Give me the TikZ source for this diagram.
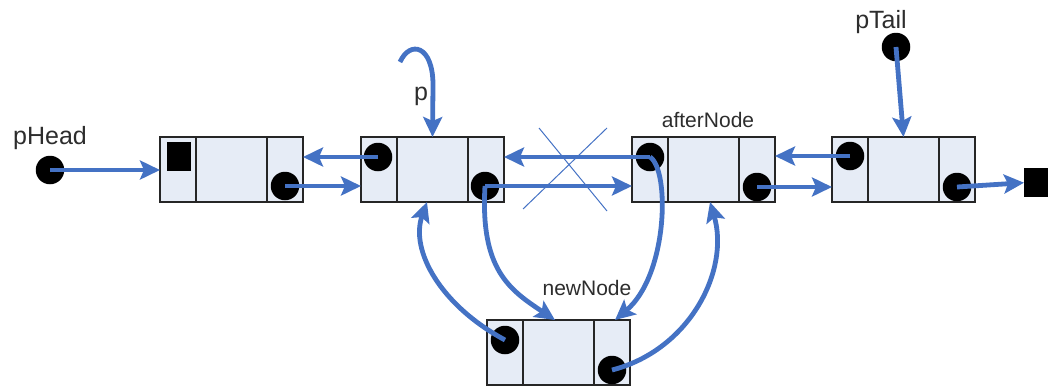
\documentclass[tikz,border=0pt]{standalone}
\usepackage{fontspec}
\setmainfont{Liberation Sans}
\usetikzlibrary{arrows.meta,calc}
\definecolor{lkblue}{RGB}{68,114,196}
\definecolor{boxfill}{RGB}{230,236,246}
\definecolor{txtgray}{RGB}{45,45,45}
\begin{document}
\begin{tikzpicture}[x=1pt,y=-1pt,
  fld/.style={draw=black!85, line width=1.6pt, fill=boxfill, minimum height=65pt, inner sep=0pt, outer sep=0pt, anchor=north west},
  dot/.style={circle, fill=black, minimum size=28.5pt, inner sep=0pt},
  nullbox/.style={fill=black, minimum width=24pt, minimum height=29pt, inner sep=0pt, anchor=north west},
  lnk/.style={draw=lkblue, line width=4.8pt, -{Stealth[length=20pt,width=19pt,inset=4pt]}},
  crossline/.style={draw=lkblue, line width=1pt},
  lbl/.style={font=\fontsize{25}{28}\selectfont, text=txtgray, anchor=base, inner sep=0pt},
  slbl/.style={font=\fontsize{21}{24}\selectfont, text=txtgray, anchor=base, inner sep=0pt}]
\useasboundingbox (0,0) rectangle (1049,389);
% list nodes
\foreach \n/\x/\y in {a/160/137, b/361/137, c/632/137, d/832/137, e/487/320} {
  \node[fld, minimum width=36pt] (\n l) at (\x,\y) {};
  \node[fld, minimum width=71pt] (\n m) at (\x+36,\y) {};
  \node[fld, minimum width=36pt] (\n r) at (\x+107,\y) {};
}
% null markers
\node[nullbox] (nul) at (167,142) {};
\node[nullbox] (term) at (1024,168) {};
% pointer dots
\node[dot] (hd) at (50,170) {};
\node[dot] (an) at (285,186) {};
\node[dot] (bp) at (378,157) {};
\node[dot] (bn) at (485,186) {};
\node[dot] (cp) at (650,157) {};
\node[dot] (cn) at (757,187) {};
\node[dot] (dp) at (850,156) {};
\node[dot] (dn) at (957,187) {};
\node[dot] (pt) at (896,47) {};
\node[dot] (ep) at (505,340) {};
\node[dot] (en) at (612,370) {};
% labels
\node[lbl] (lh) at (50,144) {pHead};
\node[lbl] (lt) at (881,28) {pTail};
\node[slbl] (la) at (708,127) {afterNode};
\node[slbl] (ln) at (587,295) {newNode};
\node[lbl] (lp) at (421,100) {p};
% cross
\coordinate (x1) at (539,128);
\coordinate (x2) at (607,211);
\coordinate (x3) at (607,128);
\coordinate (x4) at (523,209);
\draw[crossline] (x1) -- (x2);
\draw[crossline] (x3) -- (x4);
% straight links
\draw[lnk] (hd.center) -- (hd.center -| al.west);
\draw[lnk] (an.center) -- (an.center -| bl.west);
\draw[lnk] (bp.center) -- (bp.center -| ar.east);
\draw[lnk] (bn.center) -- (bn.center -| cl.west);
\draw[lnk] (cp.center) -- (cp.center -| br.east);
\draw[lnk] (cn.center) -- (cn.center -| dl.west);
\draw[lnk] (dp.center) -- (dp.center -| cr.east);
\draw[lnk] (dn.center) -- (term.west);
\draw[lnk] (pt.center) -- (dm.north);
% p pointer
\coordinate (ps) at (400,62);
\draw[lnk] (ps) .. controls (410,40) and (433,45) .. (433,85) -- (bm.north);
% curved links
\draw[lnk] (ep.center) .. controls (440,305) and (410,250) .. ($(bm.south west)+(30,0)$);
\draw[lnk] (en.center) .. controls (690,350) and (730,270) .. ($(cm.south west)+(42,0)$);
\draw[lnk] (bn.center) .. controls (480,270) and (510,290) .. ($(em.north west)+(32,0)$);
\draw[lnk] (cp.center) .. controls (670,170) and (668,275) .. ($(er.north west)+(21,0)$);
\end{tikzpicture}
\end{document}
